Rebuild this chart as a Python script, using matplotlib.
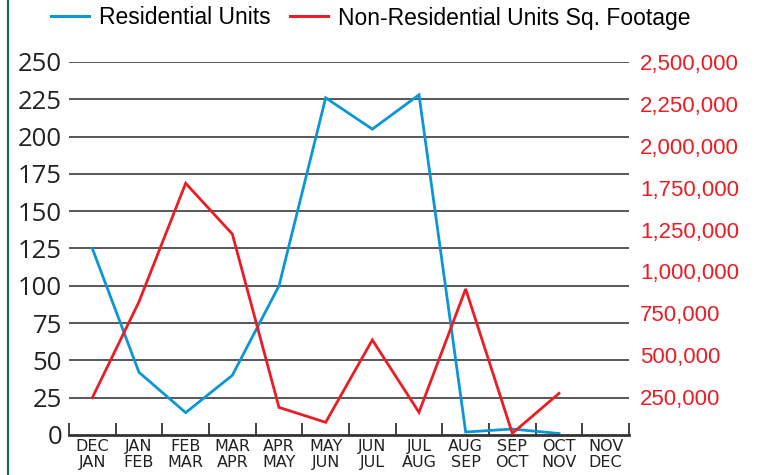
import numpy as np
import matplotlib
matplotlib.use("Agg")
import matplotlib.pyplot as plt
from matplotlib.lines import Line2D

# data
periods = ["DEC\nJAN", "JAN\nFEB", "FEB\nMAR", "MAR\nAPR", "APR\nMAY", "MAY\nJUN",
           "JUN\nJUL", "JUL\nAUG", "AUG\nSEP", "SEP\nOCT", "OCT\nNOV", "NOV\nDEC"]
residential = [125, 42, 15, 40, 100, 226, 205, 228, 2, 4, 1, np.nan]
non_residential = [250000, 893000, 1687000, 1347000, 185000, 85000,
                   637000, 152000, 979000, 11000, 279000, np.nan]

left_ticks = [0, 25, 50, 75, 100, 125, 150, 175, 200, 225, 250]
right_labels = ["2,500,000", "2,250,000", "2,000,000", "1,750,000", "1,250,000",
                "1,000,000", "750,000", "500,000", "250,000"]

blue = "#0b96d6"
red = "#ec1c24"
narrow = ["Liberation Sans Narrow", "DejaVu Sans"]

fig = plt.figure(figsize=(7.59, 4.75), dpi=100)
ax = fig.add_axes([69 / 759, 1 - 435 / 475, 560 / 759, 373 / 475])
ax2 = ax.twinx()

x = np.arange(len(periods))
ax.plot(x, residential, color=blue, lw=2.0, solid_joinstyle="miter")
ax2.plot(x, non_residential, color=red, lw=2.0, solid_joinstyle="miter")

ax.set_xlim(-0.5, len(periods) - 0.5)
ax.set_ylim(0, 250)
ax2.set_ylim(0, 2500000)

# grid lines
ax.set_yticks(left_ticks)
ax.set_yticklabels([str(v) for v in left_ticks], fontsize=18.5, color="#222222",
                   family=["Open Sans", "DejaVu Sans"])
ax.tick_params(axis="y", length=0, pad=5)
for v in left_ticks[1:]:
    ax.axhline(v, color="#2a2a2a", lw=1.1, zorder=0)

# month tick marks at boundaries, labels at centres
ax.set_xticks(np.arange(-0.5, len(periods), 1.0))
ax.set_xticklabels([])
ax.set_xticks(x, minor=True)
ax.set_xticklabels(periods, minor=True, fontsize=11.5, color="#222222",
                   family=narrow, linespacing=1.1)
ax.tick_params(axis="x", which="major", direction="in", length=9, width=1.3,
               color="#333333")
ax.tick_params(axis="x", which="minor", length=0, pad=3)

# right axis labels (spaced as printed on the original)
ax2.set_yticks(np.linspace(2500000, 254000, len(right_labels)))
ax2.set_yticklabels(right_labels, fontsize=16, color=red,
                    family=["Liberation Sans", "DejaVu Sans"])
ax2.tick_params(axis="y", length=0, pad=8)

for a in (ax, ax2):
    for s in ("top", "left", "right"):
        a.spines[s].set_visible(False)
ax.spines["bottom"].set_color("#333333")
ax.spines["bottom"].set_linewidth(2)
ax2.spines["bottom"].set_visible(False)

handles = [Line2D([], [], color=blue, lw=2.2), Line2D([], [], color=red, lw=2.2)]
fig.legend(handles, ["Residential Units", "Non-Residential Units Sq. Footage"],
           loc="center left", bbox_to_anchor=(46 / 759, 1 - 18 / 475), ncol=2,
           frameon=False, handlelength=1.66, handletextpad=0.44, columnspacing=0.87,
           borderpad=0.2, borderaxespad=0,
           prop={"family": ["Liberation Sans", "DejaVu Sans"], "size": 16.5})

# green rule on the left edge
fig.add_artist(Line2D([8 / 759, 8 / 759], [0, 1], color="#1d6b46", lw=1.6,
                      transform=fig.transFigure))

fig.savefig("out.png", dpi=100)
